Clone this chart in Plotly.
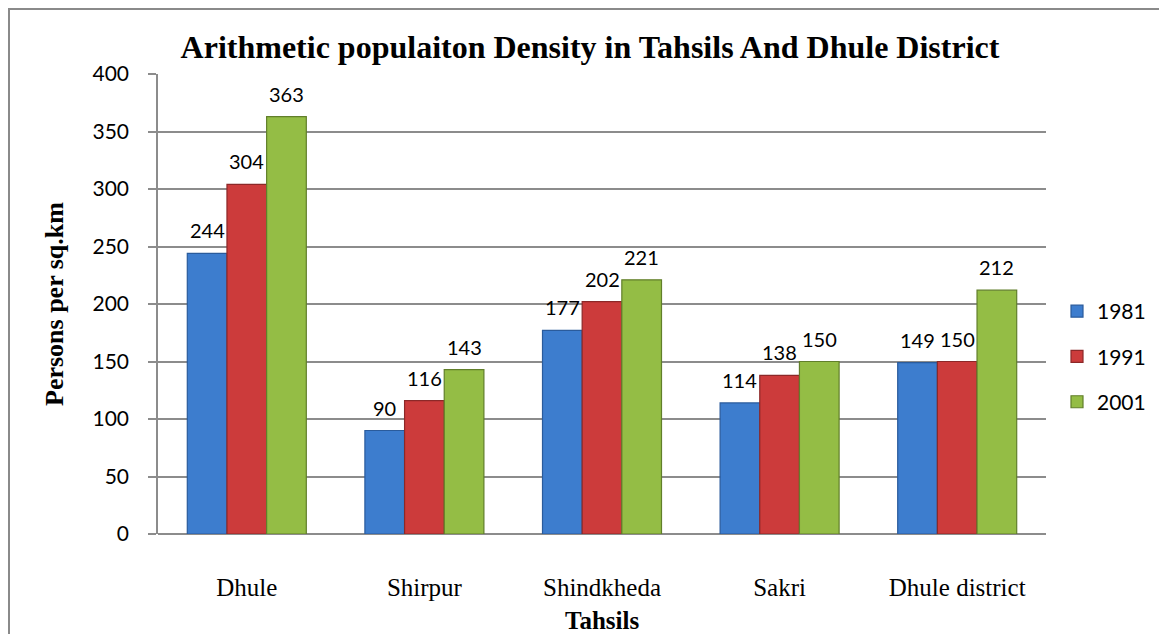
import plotly.graph_objects as go

categories = ["Dhule", "Shirpur", "Shindkheda", "Sakri", "Dhule district"]
years = ["1981", "1991", "2001"]
values_1981 = [244, 90, 177, 114, 149]
values_1991 = [304, 116, 202, 138, 150]
values_2001 = [363, 143, 221, 150, 212]
y_ticks = [0, 50, 100, 150, 200, 250, 300, 350, 400]

series = [values_1981, values_1991, values_2001]
fills = ["#3d7dce", "#cc3b3b", "#94bd45"]
edges = ["#2a5b9c", "#8c2828", "#617f2a"]

# page body has an 8px margin, so the figure is drawn offset by (8, 8)
W, H = 1159, 626
ML, MT = 150, 66
PW, PH = 888, 460
MR, MB = W - ML - PW, H - MT - PH
BARGAP = 0.33

fig = go.Figure()
for i, (yr, vals) in enumerate(zip(years, series)):
    fig.add_trace(go.Bar(
        x=categories, y=vals, name=yr, legendgroup=yr,
        marker=dict(color=fills[i], line=dict(color=edges[i], width=1.2)),
        cliponaxis=False,
    ))

# value labels, placed at each bar's value through the axes
cat_w = PW / len(categories)
bar_w = cat_w * (1 - BARGAP) / len(series)
for i, vals in enumerate(series):
    for c, v in zip(categories, vals):
        fig.add_annotation(x=c, y=v, xref="x", yref="y", text=str(v),
                           showarrow=False, xanchor="center", yanchor="bottom",
                           xshift=(i - 1) * bar_w, yshift=9,
                           font=dict(family="Lato", size=20, color="#000000"))

fig.update_layout(
    width=W, height=H,
    margin=dict(l=ML, r=MR, t=MT, b=MB, autoexpand=False),
    paper_bgcolor="#ffffff", plot_bgcolor="#ffffff",
    barmode="group", bargap=BARGAP, bargroupgap=0,
    title=dict(text="<b>Arithmetic populaiton Density in Tahsils And Dhule District</b>",
               font=dict(family="Liberation Serif", size=32, color="#000000"),
               x=582 / W, xanchor="center", y=1 - 39 / H, yanchor="middle"),
    legend=dict(x=(1049 - ML) / PW, y=(MT + PH - 283) / PH,
                xanchor="left", yanchor="top",
                font=dict(family="Lato", size=21, color="#000000"),
                tracegroupgap=15, itemwidth=30, bgcolor="rgba(0,0,0,0)"),
    showlegend=True,
    font=dict(family="Lato", color="#000000"),
)

fig.update_xaxes(
    showline=False, showgrid=False, ticks="", zeroline=False,
    tickfont=dict(family="Liberation Serif", size=25, color="#000000"),
    ticklabelstandoff=36,
)
fig.update_yaxes(
    range=[0, 400], tickvals=y_ticks, ticktext=[str(t) for t in y_ticks],
    showgrid=True, gridcolor="#8c8c8c", gridwidth=1.5,
    showline=True, linecolor="#8c8c8c", linewidth=1.5,
    ticks="outside", ticklen=8, tickcolor="#8c8c8c", tickwidth=1.5,
    zeroline=True, zerolinecolor="#8c8c8c", zerolinewidth=1.5,
    tickfont=dict(family="Lato", size=21, color="#000000"),
    ticklabelstandoff=15,
)

# axis titles
fig.add_annotation(text="<b>Tahsils</b>", xref="paper", yref="paper",
                   x=0.5, y=(MT + PH - 612) / PH, xanchor="center", yanchor="middle",
                   showarrow=False,
                   font=dict(family="Liberation Serif", size=25, color="#000000"))
fig.add_annotation(text="<b>Persons per sq.km</b>", xref="paper", yref="paper",
                   x=(46 - ML) / PW, y=0.5, xanchor="center", yanchor="middle",
                   textangle=-90, showarrow=False,
                   font=dict(family="Liberation Serif", size=26, color="#000000"))

# outer chart border
fig.add_shape(type="rect", xref="paper", yref="paper",
              x0=(1 - ML) / PW, x1=(W + 20 - ML) / PW,
              y0=(MT + PH - (H + 20)) / PH, y1=(MT + PH - 1) / PH,
              line=dict(color="#8a8a8a", width=2), fillcolor="rgba(0,0,0,0)", layer="below")

fig.write_html("out.html")
